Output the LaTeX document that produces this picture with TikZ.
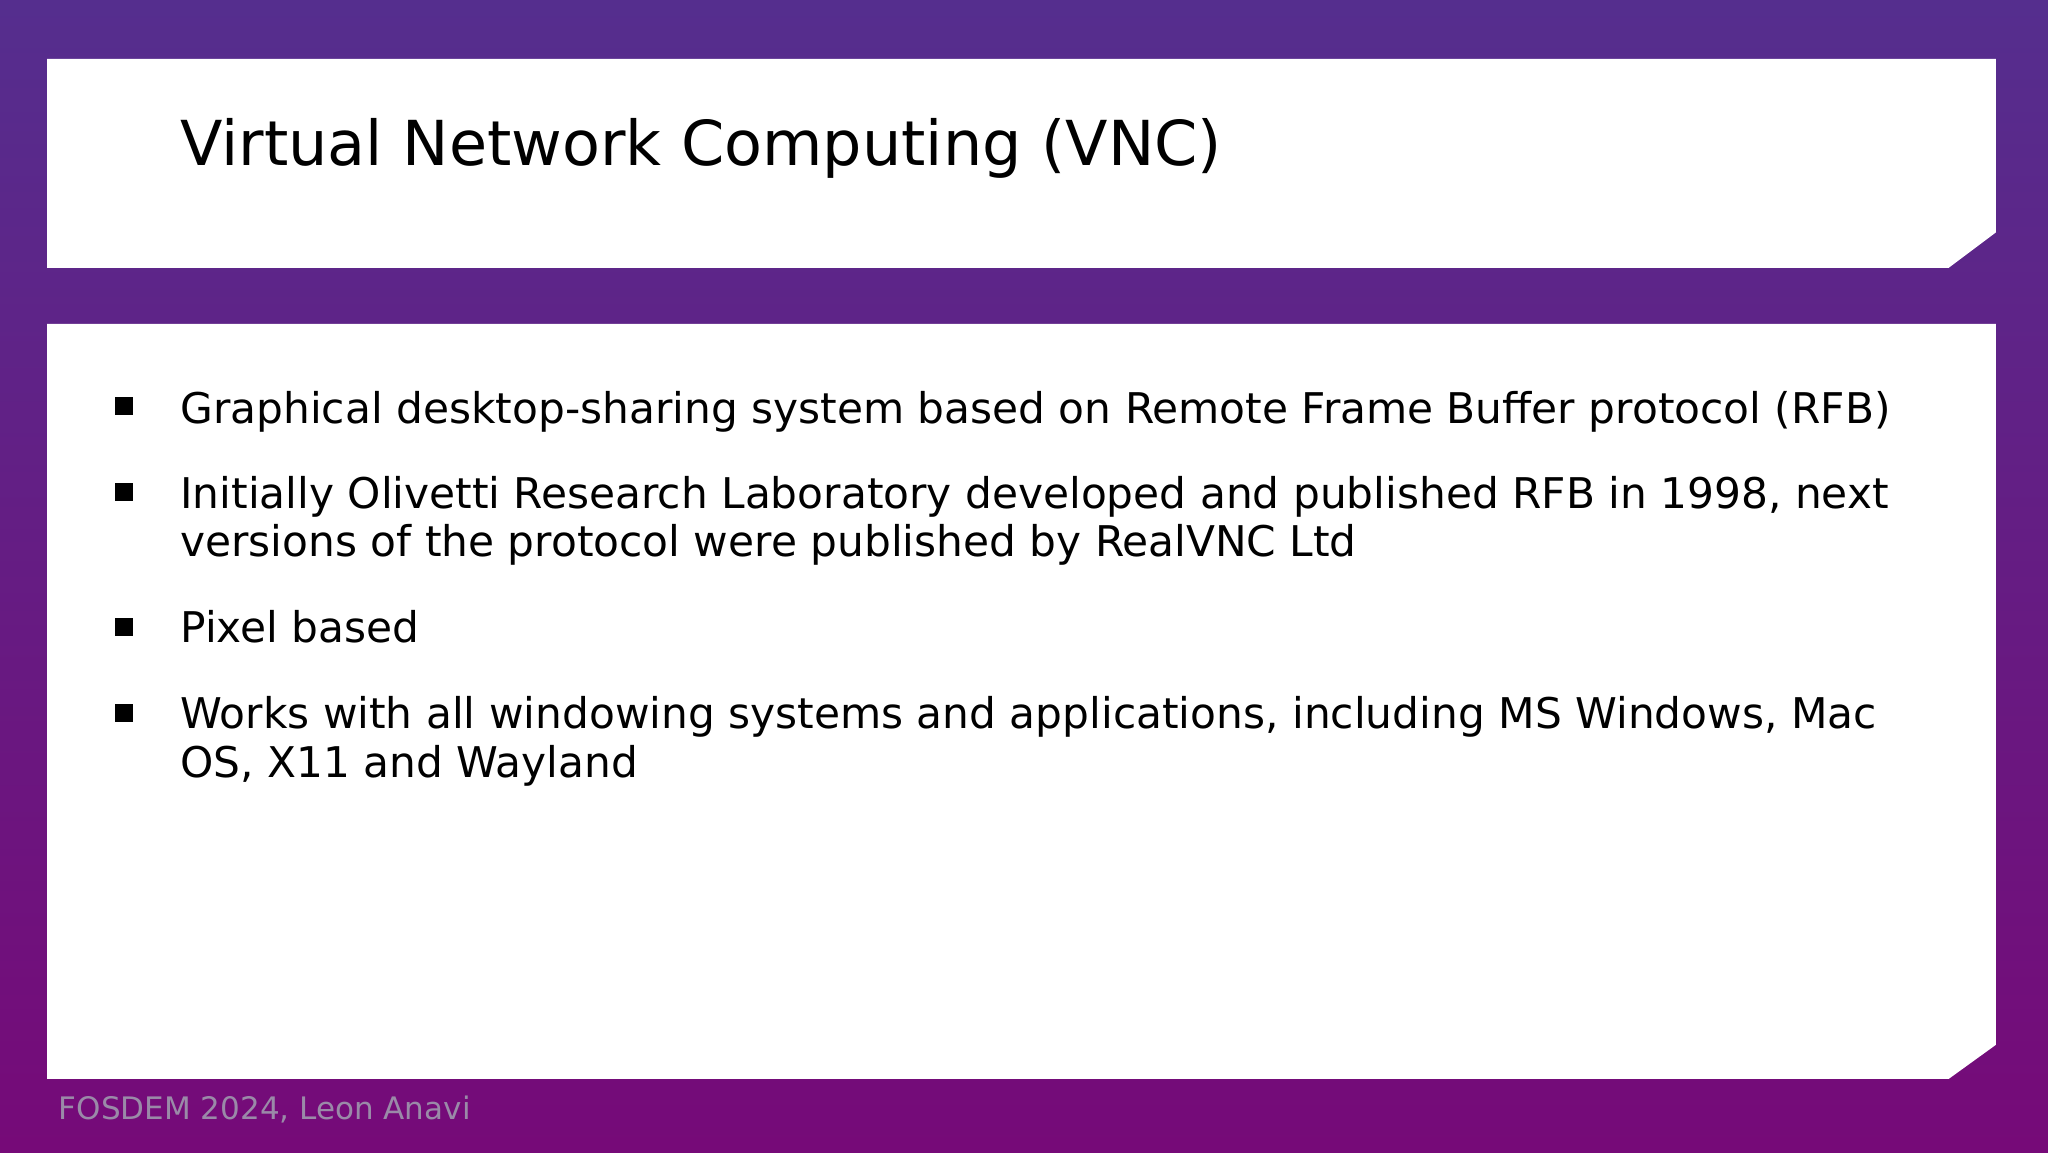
\documentclass[tikz,border=0pt]{standalone}
\usepackage{fontspec}
\setmainfont{DejaVu Sans}
\definecolor{bgtop}{HTML}{552E8E}
\definecolor{bgbot}{HTML}{760A78}
\definecolor{foot}{HTML}{9A8AA8}
\tikzset{
  panel/.style={fill=white,draw=none},
  item/.style={anchor=base west,inner sep=0pt,font=\fontsize{42.3}{48}\selectfont},
  bul/.style={fill=black,minimum size=18pt,inner sep=0pt}
}
\begin{document}
\begin{tikzpicture}[x=1.30612pt,y=-1.30612pt]
\useasboundingbox (0,0) rectangle (1568,882);
\shade[top color=bgtop,bottom color=bgbot] (0,0) rectangle (1568,882);
\fill[panel] (36,45) -- (1528,45) -- (1528,178) -- (1492,205) -- (36,205) -- cycle;
\fill[panel] (36,248) -- (1528,248) -- (1528,800) -- (1492,826) -- (36,826) -- cycle;
\node[anchor=base west,inner sep=0pt,font=\fontsize{62}{70}\selectfont] (title) at (138,127) {Virtual Network Computing (VNC)};
\node[item] (i1) at (138,324) {Graphical desktop-sharing system based on Remote Frame Buffer protocol (RFB)};
\node[item] (i2a) at (138,389) {Initially Olivetti Research Laboratory developed and published RFB in 1998, next};
\node[item] (i2b) at (138,426) {versions of the protocol were published by RealVNC Ltd};
\node[item] (i3) at (138,492) {Pixel based};
\node[item] (i4a) at (138,558) {Works with all windowing systems and applications, including MS Windows, Mac};
\node[item] (i4b) at (138,595) {OS, X11 and Wayland};
\node[bul] (b1) at (95,311) {};
\node[bul] (b2) at (95,377) {};
\node[bul] (b3) at (95,480) {};
\node[bul] (b4) at (95,546) {};
\node[anchor=base west,inner sep=0pt,text=foot,font=\fontsize{31}{34}\selectfont] (f) at (45,857) {FOSDEM 2024, Leon Anavi};
\end{tikzpicture}
\end{document}
